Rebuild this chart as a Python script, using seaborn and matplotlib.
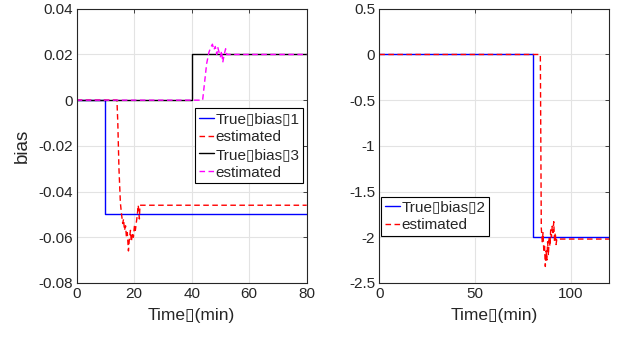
import matplotlib
matplotlib.use("Agg")
import matplotlib.pyplot as plt
import seaborn as sns
import pandas as pd

sns.set_style("whitegrid")
plt.rcParams['font.family'] = ['Liberation Sans', 'DejaVu Sans']
plt.rcParams['axes.unicode_minus'] = False

# left panel: bias 1 and bias 3
t_true1 = [0, 10, 10, 80]
y_true1 = [0, 0, -0.05, -0.05]
t_est1 = [0, 14, 14.3, 14.7, 15.2, 15.6, 16.0, 16.3, 16.6, 17.0, 17.3, 17.6, 18.0,
          18.3, 18.7, 19.0, 19.4, 19.7, 20.1, 20.4, 20.8, 21.1, 21.4, 21.8, 22.0, 80]
y_est1 = [0, 0, -0.01, -0.03, -0.045, -0.05, -0.054, -0.052, -0.057, -0.055, -0.060,
          -0.058, -0.066, -0.061, -0.057, -0.062, -0.058, -0.060, -0.055, -0.057,
          -0.053, -0.050, -0.046, -0.052, -0.046, -0.046]
t_true3 = [0, 40, 40, 80]
y_true3 = [0, 0, 0.02, 0.02]
t_est3 = [0, 43.8, 44.5, 45.2, 46.0, 46.6, 47.2, 47.7, 48.2, 48.7, 49.1, 49.5, 50.0,
          50.4, 50.8, 51.3, 51.8, 52.2, 80]
y_est3 = [0, 0, 0.008, 0.016, 0.021, 0.023, 0.0245, 0.022, 0.0235, 0.020, 0.023,
          0.021, 0.019, 0.0215, 0.0165, 0.020, 0.0225, 0.020, 0.020]

# right panel: bias 2
t_true2 = [0, 80, 80, 120]
y_true2 = [0, 0, -2, -2]
t_est2 = [0, 84, 84.5, 85.0, 85.4, 85.8, 86.2, 86.6, 87.0, 87.4, 87.8, 88.2, 88.6,
          89.0, 89.4, 89.8, 90.2, 90.6, 91.0, 91.4, 91.8, 92.2, 92.6, 120]
y_est2 = [0, 0, -1.9, -2.05, -1.95, -2.15, -2.1, -2.32, -2.15, -2.25, -2.05, -2.2,
          -2.0, -2.1, -1.92, -2.0, -1.88, -1.95, -1.83, -2.05, -1.95, -2.08, -2.02, -2.02]

BOX = "\u25af"
FS = 11

fig = plt.figure(figsize=(6.19, 3.38), dpi=100)
ax1 = fig.add_axes([0.1239, 0.163, 0.3716, 0.811])
ax2 = fig.add_axes([0.6128, 0.163, 0.3716, 0.811])


def draw(ax, t, y, color, label, dashed=False):
    d = pd.DataFrame({"t": t, "y": y})
    sns.lineplot(data=d, x="t", y="y", ax=ax, color=color, lw=1.0,
                 sort=False, estimator=None, label=label)
    if dashed:
        ax.get_lines()[-1].set_dashes((4, 2.5))


draw(ax1, t_true1, y_true1, "#0000ff", f"True{BOX}bias{BOX}1")
draw(ax1, t_est1, y_est1, "#ff0000", "estimated", dashed=True)
draw(ax1, t_true3, y_true3, "#000000", f"True{BOX}bias{BOX}3")
draw(ax1, t_est3, y_est3, "#ff00ff", "estimated", dashed=True)

draw(ax2, t_true2, y_true2, "#0000ff", f"True{BOX}bias{BOX}2")
draw(ax2, t_est2, y_est2, "#ff0000", "estimated", dashed=True)

ax1.set_xlim(0, 80)
ax1.set_ylim(-0.08, 0.04)
ax1.set_xticks([0, 20, 40, 60, 80])
ax1.set_yticks([-0.08, -0.06, -0.04, -0.02, 0, 0.02, 0.04])
ax1.set_yticklabels(["-0.08", "-0.06", "-0.04", "-0.02", "0", "0.02", "0.04"])
ax1.set_ylabel("bias", fontsize=13.5)
ax1.yaxis.set_label_coords(-0.2, 0.5)

ax2.set_xlim(0, 120)
ax2.set_ylim(-2.5, 0.5)
ax2.set_xticks([0, 50, 100])
ax2.set_yticks([-2.5, -2, -1.5, -1, -0.5, 0, 0.5])
ax2.set_yticklabels(["-2.5", "-2", "-1.5", "-1", "-0.5", "0", "0.5"])
ax2.set_ylabel("")

for ax in (ax1, ax2):
    ax.set_xlabel(f"Time{BOX}(min)", fontsize=12.5, labelpad=5)
    ax.grid(True, color="#e3e3e3", lw=0.8)
    ax.tick_params(direction="in", length=3, width=0.6, labelsize=FS,
                   top=True, right=True, colors="#262626", pad=3)
    for s in ax.spines.values():
        s.set_color("#262626")
        s.set_linewidth(0.8)

leg_kw = dict(fontsize=FS, frameon=True, fancybox=False, edgecolor="black",
              framealpha=1, borderaxespad=0, handlelength=1.0, handletextpad=0.1,
              labelspacing=0.25, borderpad=0.25)
l1 = ax1.legend(loc="upper right", bbox_to_anchor=(0.986, 0.637), **leg_kw)
l2 = ax2.legend(loc="upper left", bbox_to_anchor=(0.007, 0.315), **leg_kw)
for lg in (l1, l2):
    lg.get_frame().set_linewidth(0.8)

fig.savefig("out.png", dpi=100)
